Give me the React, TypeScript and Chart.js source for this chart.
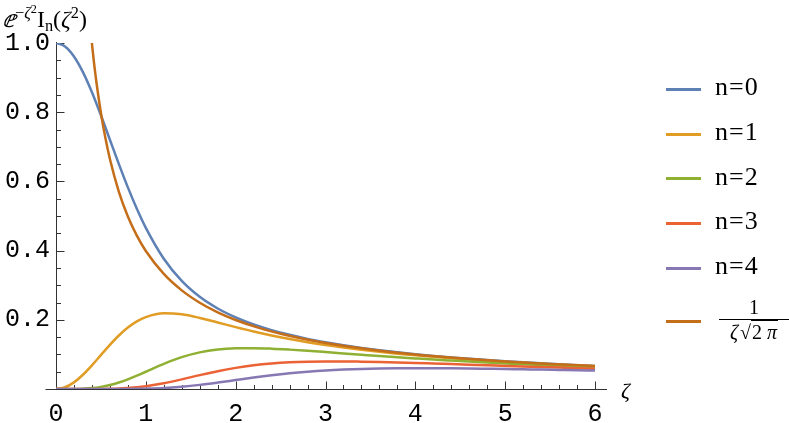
import React, { useEffect, useRef } from "react";
import { Chart, registerables } from "chart.js";

Chart.register(...registerables);

// ζ sample positions
const zeta = [
  0, 0.1, 0.2, 0.3, 0.4, 0.5, 0.6, 0.7, 0.8, 0.9, 1.0, 1.2, 1.4, 1.6, 1.8, 2.0,
  2.2, 2.4, 2.6, 2.8, 3.0, 3.2, 3.4, 3.6, 3.8, 4.0, 4.2, 4.4, 4.6, 4.8, 5.0,
  5.2, 5.4, 5.6, 5.8, 6.0,
];

// e^{-ζ²} I_n(ζ²)
const n0 = [
  1, 0.9901, 0.9612, 0.9158, 0.8576, 0.791, 0.7205, 0.65, 0.5827, 0.5209,
  0.4658, 0.3766, 0.3123, 0.2663, 0.2326, 0.207, 0.1868, 0.1703, 0.1566, 0.1449,
  0.135, 0.1263, 0.1187, 0.1119, 0.1059, 0.1005, 0.0957, 0.0913, 0.0873, 0.0836,
  0.0802, 0.0771, 0.0742, 0.0715, 0.069, 0.0667,
];
const n1 = [
  0, 0.005, 0.0192, 0.0412, 0.0684, 0.0981, 0.1276, 0.1546, 0.1775, 0.1954,
  0.2079, 0.2188, 0.2158, 0.2054, 0.1922, 0.1788, 0.1661, 0.1547, 0.1445,
  0.1354, 0.1272, 0.12, 0.1134, 0.1075, 0.1022, 0.0974, 0.0929, 0.0889, 0.0852,
  0.0817, 0.0786, 0.0756, 0.0729, 0.0704, 0.068, 0.0658,
];
const n2 = [
  0, 0, 0.0002, 0.0009, 0.0027, 0.0061, 0.0114, 0.0188, 0.0279, 0.0385, 0.0499,
  0.0727, 0.0921, 0.1058, 0.114, 0.1176, 0.1181, 0.1166, 0.1138, 0.1104, 0.1067,
  0.1029, 0.0991, 0.0953, 0.0918, 0.0884, 0.0851, 0.0821, 0.0792, 0.0765,
  0.0739, 0.0715, 0.0692, 0.067, 0.065, 0.0631,
];
const n3 = [
  0, 0, 0, 0, 0.0001, 0.0003, 0.0007, 0.0015, 0.003, 0.0051, 0.0082, 0.0168,
  0.0279, 0.0401, 0.0515, 0.0611, 0.0685, 0.0737, 0.0771, 0.079, 0.0798, 0.0798,
  0.0791, 0.0781, 0.0768, 0.0753, 0.0736, 0.0719, 0.0702, 0.0685, 0.0668,
  0.0651, 0.0634, 0.0618, 0.0603, 0.0588,
];
const n4 = [
  0, 0, 0, 0, 0, 0, 0, 0.0001, 0.0002, 0.0005, 0.001, 0.0027, 0.0065, 0.0119,
  0.0186, 0.0259, 0.0332, 0.0398, 0.0454, 0.0499, 0.0535, 0.0561, 0.058, 0.0592,
  0.0599, 0.0602, 0.0601, 0.0598, 0.0593, 0.0586, 0.0579, 0.057, 0.0562, 0.0552,
  0.0542, 0.0533,
];

// 1/(ζ√(2π)) curve
const zetaAsym = [
  0.39, 0.42, 0.45, 0.5, 0.55, 0.6, 0.7, 0.8, 0.9, 1.0, 1.2, 1.4, 1.6, 1.8, 2.0,
  2.25, 2.5, 2.75, 3.0, 3.5, 4.0, 4.5, 5.0, 5.5, 6.0,
];
const asym = [
  1.0229, 0.9499, 0.8865, 0.7979, 0.7253, 0.6649, 0.5699, 0.4987, 0.4433,
  0.3989, 0.3325, 0.285, 0.2493, 0.2216, 0.1995, 0.1773, 0.1596, 0.1451, 0.133,
  0.114, 0.0997, 0.0887, 0.0798, 0.0725, 0.0665,
];

const seriesLabels = ["n=0", "n=1", "n=2", "n=3", "n=4", "1/(ζ√(2π))"];
const colors = ["#5E81B5", "#E19C24", "#8FB032", "#EB6235", "#8778B3", "#C56E1A"];

const xMajor = [0, 1, 2, 3, 4, 5, 6];
const yMajor = [0.2, 0.4, 0.6, 0.8, 1.0];

const serif = "'Liberation Serif', 'Times New Roman', serif";
const mono = "'Liberation Mono', 'DejaVu Sans Mono', monospace";

export default function App() {
  const ref = useRef<HTMLCanvasElement | null>(null);

  useEffect(() => {
    document.body.style.margin = "0";
    const canvas = ref.current;
    if (!canvas) return;

    const axesPlugin = {
      id: "mmaAxes",
      beforeDatasetsDraw(chart: any) {
        const ctx = chart.ctx;
        const xs = chart.scales.x;
        const ys = chart.scales.y;
        const x0 = Math.round(xs.getPixelForValue(0)) + 0.5;
        const y0 = Math.round(ys.getPixelForValue(0)) + 0.5;
        ctx.save();
        ctx.strokeStyle = "#333";
        ctx.lineWidth = 1;
        ctx.beginPath();
        ctx.moveTo(x0 - 11, y0);
        ctx.lineTo(xs.getPixelForValue(6) + 12, y0);
        ctx.moveTo(x0, y0);
        ctx.lineTo(x0, ys.getPixelForValue(1) - 1);
        for (let i = 1; i <= 30; i++) {
          const px = Math.round(xs.getPixelForValue(i * 0.2)) + 0.5;
          const len = i % 5 === 0 ? 8 : 4.5;
          ctx.moveTo(px, y0);
          ctx.lineTo(px, y0 - len);
        }
        for (let i = 1; i <= 20; i++) {
          const py = Math.round(ys.getPixelForValue(i * 0.05)) + 0.5;
          const len = i % 4 === 0 ? 8 : 4.5;
          ctx.moveTo(x0, py);
          ctx.lineTo(x0 + len, py);
        }
        ctx.stroke();
        ctx.restore();
      },
    };

    const allSeries = [n0, n1, n2, n3, n4];
    const datasets: any[] = allSeries.map((s, i) => ({
      label: seriesLabels[i],
      data: zeta.map((z, k) => ({ x: z, y: s[k] })),
      borderColor: colors[i],
      backgroundColor: colors[i],
      borderWidth: 2.5,
      pointRadius: 0,
      cubicInterpolationMode: "monotone",
      fill: false,
      order: 5 - i,
    }));
    datasets.push({
      label: seriesLabels[5],
      data: zetaAsym.map((z, k) => ({ x: z, y: asym[k] })),
      borderColor: colors[5],
      backgroundColor: colors[5],
      borderWidth: 2.5,
      pointRadius: 0,
      cubicInterpolationMode: "monotone",
      fill: false,
      order: 0,
    });

    const chart = new Chart(canvas, {
      type: "line",
      data: { datasets },
      options: {
        animation: false,
        responsive: false,
        devicePixelRatio: 1,
        layout: { padding: { top: 43, right: 194, left: 0, bottom: 0 } },
        plugins: { legend: { display: false }, tooltip: { enabled: false } },
        scales: {
          x: {
            type: "linear",
            min: 0,
            max: 6,
            grid: { display: false, drawTicks: false },
            border: { display: false },
            afterBuildTicks: (scale: any) => {
              scale.ticks = xMajor.map((v) => ({ value: v }));
            },
            afterFit: (scale: any) => {
              scale.height = 34;
            },
            ticks: {
              color: "#000",
              padding: 10,
              maxRotation: 0,
              autoSkip: false,
              font: { family: mono, size: 25 },
              callback: (v: any) => String(Math.round(Number(v))),
            },
          },
          y: {
            type: "linear",
            min: 0,
            max: 1,
            grid: { display: false, drawTicks: false },
            border: { display: false },
            afterBuildTicks: (scale: any) => {
              scale.ticks = yMajor.map((v) => ({ value: v }));
            },
            afterFit: (scale: any) => {
              scale.width = 56;
            },
            ticks: {
              color: "#000",
              padding: 6,
              autoSkip: false,
              font: { family: mono, size: 25 },
              callback: (v: any) => Number(v).toFixed(1),
            },
          },
        },
      },
      plugins: [axesPlugin],
    });
    return () => chart.destroy();
  }, []);

  const legendRows = [89.3, 134, 178.7, 223.4, 268.1];

  const supStyle: React.CSSProperties = {
    fontSize: "0.68em",
    position: "relative",
    top: "-0.55em",
    verticalAlign: "baseline",
  };
  const subStyle: React.CSSProperties = {
    fontSize: "0.68em",
    position: "relative",
    top: "0.25em",
    verticalAlign: "baseline",
  };

  return (
    <div style={{ position: "relative", width: 789, height: 423, overflow: "hidden", fontFamily: serif }}>
      <canvas ref={ref} width={789} height={423} style={{ display: "block" }} />
      <div
        style={{
          position: "absolute",
          left: 3,
          top: 7,
          fontSize: 24,
          lineHeight: 1,
          whiteSpace: "nowrap",
          color: "#000",
        }}
      >
        <span style={{ fontStyle: "italic" }}>ⅇ</span>
        <span style={supStyle}>
          −<i>ζ</i>
          <span style={{ fontSize: "0.75em", position: "relative", top: "-0.45em" }}>2</span>
        </span>
        I<span style={subStyle}>n</span>(<i>ζ</i>
        <span style={supStyle}>2</span>)
      </div>
      <div
        style={{
          position: "absolute",
          left: 621,
          top: 380,
          fontSize: 22,
          lineHeight: 1,
          fontStyle: "italic",
          color: "#000",
        }}
      >
        ζ
      </div>
      {legendRows.map((y, i) => (
        <React.Fragment key={i}>
          <div
            style={{
              position: "absolute",
              left: 666,
              top: y - 1.5,
              width: 35,
              height: 3,
              background: colors[i],
            }}
          />
          <div
            style={{
              position: "absolute",
              left: 715,
              top: y + 6.7 - 0.8375 * 26,
              fontSize: 26,
              lineHeight: 1,
              whiteSpace: "nowrap",
              color: "#000",
            }}
          >
            n<span style={{ margin: "0 1px" }}>=</span>
            {i}
          </div>
        </React.Fragment>
      ))}
      <div
        style={{
          position: "absolute",
          left: 666,
          top: 319.5,
          width: 35,
          height: 3,
          background: colors[5],
        }}
      />
      <div
        style={{
          position: "absolute",
          left: 719,
          top: 297,
          width: 70,
          fontSize: 20,
          lineHeight: 1,
          textAlign: "center",
          color: "#000",
          whiteSpace: "nowrap",
        }}
      >
        <div style={{ paddingBottom: 2 }}>1</div>
        <div style={{ borderTop: "1px solid #000", paddingTop: 2 }}>
          <i>ζ</i>
          <span style={{ marginLeft: 2 }}>√</span>
          <span style={{ borderTop: "1px solid #000", padding: "0 1px" }}>
            2 <i>π</i>
          </span>
        </div>
      </div>
    </div>
  );
}
